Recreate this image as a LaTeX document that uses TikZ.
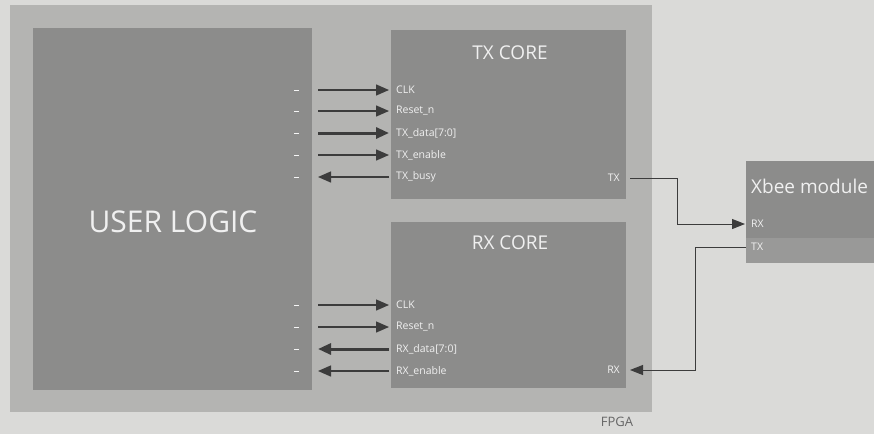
\documentclass[tikz,border=0pt]{standalone}
\usepackage{fontspec}
\setmainfont{Open Sans}
\usetikzlibrary{positioning,arrows.meta}
\definecolor{pagegray}{HTML}{DADAD8}
\definecolor{fpgagray}{HTML}{B4B4B2}
\definecolor{blockgray}{HTML}{8C8C8B}
\definecolor{bandgray}{HTML}{999998}
\definecolor{wiregray}{HTML}{3C3C3C}
\definecolor{labelgray}{HTML}{F0F0F0}
\tikzset{block/.style={draw=none,fill=blockgray,inner sep=0pt,anchor=north west},
  title/.style={text=labelgray,inner sep=0pt,font=\fontsize{19}{21}\selectfont},
  pin/.style={text=labelgray,inner sep=1pt,anchor=west,font=\fontsize{10.5}{12}\selectfont},
  sig/.style={draw=wiregray,line width=1.4pt,-{Triangle[length=13pt,width=11pt]}},
  bus/.style={sig,line width=3pt},
  wire/.style={draw=wiregray,line width=1pt,-{Triangle[length=13pt,width=10pt]}}}

\begin{document}
\begin{tikzpicture}[x=1pt,y=-1pt]
\fill[pagegray] (0,0) rectangle (874,434);
\useasboundingbox (0,0) rectangle (874,434);
% boxes
\node[block,fill=fpgagray,minimum width=642,minimum height=407] (fpga) at (10,5) {};
\node[text=black!60,font=\fontsize{13}{15}\selectfont] (fpgalabel) at (617,422) {FPGA};
\node[block,minimum width=279,minimum height=362] (user) at (33,28) {};
\node[text=labelgray,font=\fontsize{30}{33}\selectfont] (userlabel) at (173,222) {USER LOGIC};
\node[block,minimum width=235,minimum height=169] (txcore) at (391,30) {};
\node[title] at (510,53) {TX CORE};
\node[block,minimum width=235,minimum height=166] (rxcore) at (391,222) {};
\node[title] at (510,243) {RX CORE};
\node[block,minimum width=140,minimum height=102] (xbee) at (746,161) {};
\fill[bandgray] (746,238) rectangle (874,263);
\node[title,anchor=west] at (751,186) {Xbee module};
% pins of the TX core
\foreach \name/\y/\lbl in {a/90/CLK,b/111/Reset\_n,c/133/TX\_data[7:0],d/155/TX\_enable,e/177/TX\_busy}{
  \node[pin] (tx\name) at (395,\y) {\lbl};
  \coordinate (ut\name) at (318,\y);
  \draw[labelgray!70,line width=0.6pt] (294,\y) -- (299,\y);
}
\draw[sig,shorten >=6pt] (uta) -- (txa.west);
\draw[sig,shorten >=6pt] (utb) -- (txb.west);
\draw[bus,shorten >=6pt] (utc) -- (txc.west);
\draw[sig,shorten >=6pt] (utd) -- (txd.west);
\draw[sig,shorten <=6pt] (txe.west) -- (ute);
% pins of the RX core
\foreach \name/\y/\lbl in {a/305/CLK,b/327/Reset\_n,c/349/RX\_data[7:0],d/371/RX\_enable}{
  \node[pin] (rx\name) at (395,\y) {\lbl};
  \coordinate (ur\name) at (318,\y);
  \draw[labelgray!70,line width=0.6pt] (294,\y) -- (299,\y);
}
\draw[sig,shorten >=6pt] (ura) -- (rxa.west);
\draw[sig,shorten >=6pt] (urb) -- (rxb.west);
\draw[bus,shorten <=6pt] (rxc.west) -- (urc);
\draw[sig,shorten <=6pt] (rxd.west) -- (urd);
% serial lines
\node[pin,anchor=east] (txo) at (621,178) {TX};
\node[pin,anchor=east] (rxo) at (621,370) {RX};
\node[pin] (xrx) at (750,224) {RX};
\node[pin] (xtx) at (750,247) {TX};
\draw[wire,shorten <=9pt,shorten >=5pt] (txo.east) -| ([xshift=-73pt]xrx.west) -- (xrx.west);
\draw[wire,shorten <=4pt,shorten >=9pt] (xtx.west) -| ([xshift=74pt]rxo.east) -- (rxo.east);
\end{tikzpicture}
\end{document}
